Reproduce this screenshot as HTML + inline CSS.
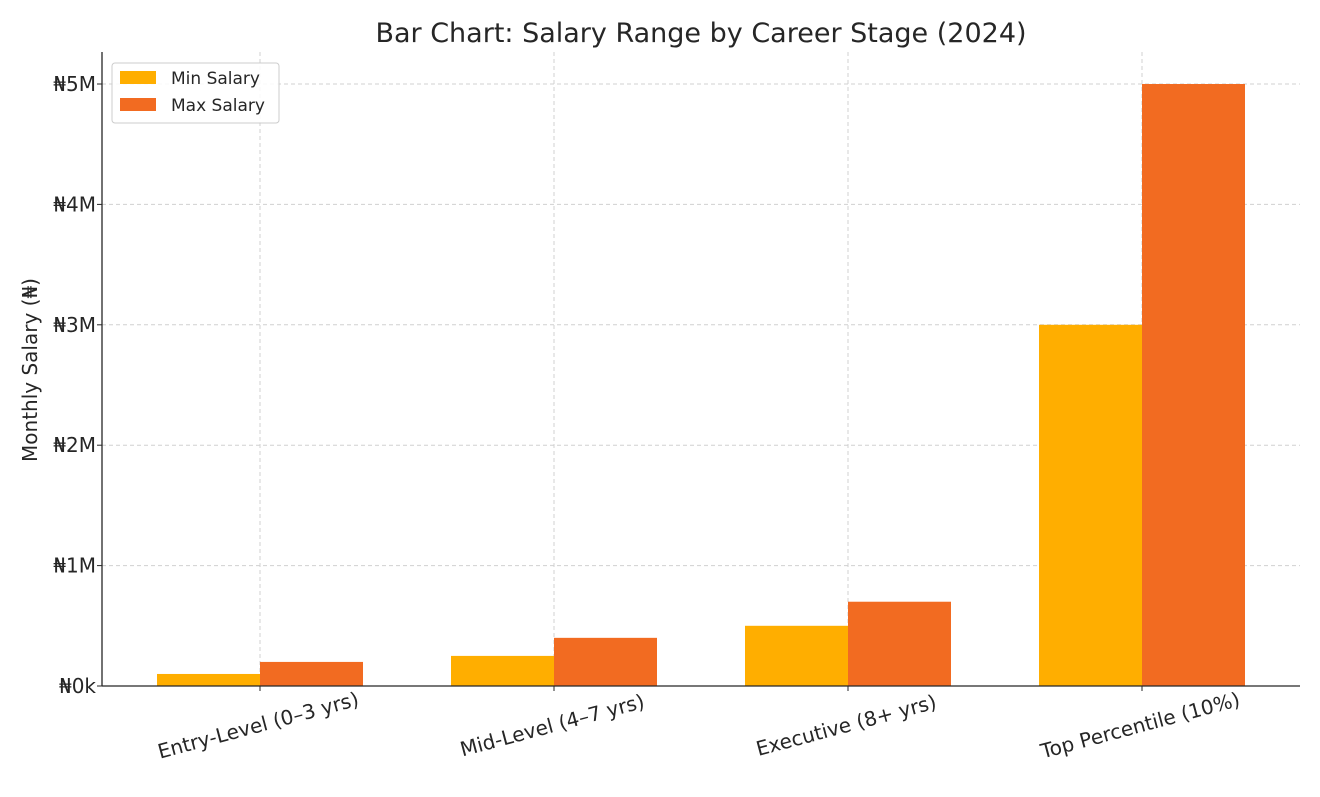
<!DOCTYPE html>
<html><head><meta charset="utf-8"><style>
body{margin:0;background:#fff;}
svg text{font-family:"DejaVu Sans","Liberation Sans",sans-serif;fill:#262626;}
</style></head><body>
<svg id="chart" width="1320" height="792" xmlns="http://www.w3.org/2000/svg">
<text x="701" y="42" font-size="27" text-anchor="middle">Bar Chart: Salary Range by Career Stage (2024)</text>
<text transform="translate(37,370) rotate(-90)" font-size="20" text-anchor="middle">Monthly Salary (₦)</text>
<g id="grid"></g><g id="bars"></g><g id="axes"></g>
<g>
<rect x="112" y="63" width="167" height="60" rx="3" fill="#fff" fill-opacity="0.85" stroke="#ccc"/>
<rect x="120" y="71" width="36" height="13" fill="#FFAE00"/>
<text x="171" y="84" font-size="17">Min Salary</text>
<rect x="120" y="98" width="36" height="13" fill="#F26B21"/>
<text x="171" y="111" font-size="17">Max Salary</text>
</g>
</svg>
<script>
const categories=["Entry-Level (0–3 yrs)","Mid-Level (4–7 yrs)","Executive (8+ yrs)","Top Percentile (10%)"];
const minSalary=[100000,250000,500000,3000000];
const maxSalary=[200000,400000,700000,5000000];
const tickValues=[0,1000000,2000000,3000000,4000000,5000000];
const tickLabels=["₦0k","₦1M","₦2M","₦3M","₦4M","₦5M"];
const NS="http://www.w3.org/2000/svg";
const X0=102,X1=1300,Y0=686,Y5=84,TOP=52;
const y=v=>Y0-(v/5000000)*(Y0-Y5);
const xc=i=>260+i*294;
const BW=103;
function mk(tag,attrs,parent){const e=document.createElementNS(NS,tag);for(const k in attrs)e.setAttribute(k,attrs[k]);document.getElementById(parent).appendChild(e);return e;}
tickValues.forEach((v,i)=>{
  if(i>0){const l=mk('line',{x1:X0,x2:X1,y1:y(v),y2:y(v),stroke:'#d0d0d0','stroke-dasharray':'4,3'},'grid');
  
  }
  const t=mk('text',{x:96,y:y(v)+7,'font-size':20,'text-anchor':'end'},'axes');t.textContent=tickLabels[i];
  
  
  const tk=mk('line',{x1:X0-5,x2:X0,y1:y(v),y2:y(v),stroke:'#262626'},'axes');
  
  
});
categories.forEach((c,i)=>{
  const g=mk('line',{x1:xc(i),x2:xc(i),y1:TOP,y2:Y0,stroke:'#d0d0d0','stroke-dasharray':'4,3'},'grid');
  
  
  const b1=mk('rect',{x:xc(i)-BW,y:y(minSalary[i]),width:BW,height:Y0-y(minSalary[i]),fill:'#FFAE00'},'bars');
  
  
  const b2=mk('rect',{x:xc(i),y:y(maxSalary[i]),width:BW,height:Y0-y(maxSalary[i]),fill:'#F26B21'},'bars');
  
  
  const tk=mk('line',{x1:xc(i),x2:xc(i),y1:Y0,y2:Y0+5,stroke:'#262626'},'axes');
  
  
  const t=mk('text',{transform:`translate(${xc(i)},${Y0+46}) rotate(-15)`,'font-size':20,'text-anchor':'middle'},'axes');
  t.textContent=c;
  
  
});
const ya=mk('line',{x1:X0,x2:X0,y1:TOP,y2:Y0,stroke:'#262626','stroke-width':1.3},'axes');


const xa=mk('line',{x1:X0,x2:X1,y1:Y0,y2:Y0,stroke:'#262626','stroke-width':1.3},'axes');


</script>
</body></html>
